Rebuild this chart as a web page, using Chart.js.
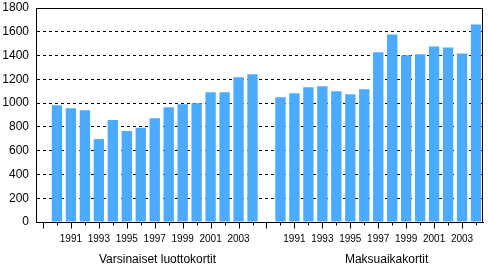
<!DOCTYPE html>
<html>
<head>
<meta charset="utf-8">
<script src="https://cdn.jsdelivr.net/npm/chart.js@4"></script>
<style>
html,body{margin:0;padding:0;background:#fff;}
#wrap{width:488px;height:265px;position:relative;}
</style>
</head>
<body>
<div id="wrap"><canvas id="c" width="488" height="265"></canvas></div>
<script>
const years = ['1990','1991','1992','1993','1994','1995','1996','1997','1998','1999','2000','2001','2002','2003','2004'];
const luottokortit = [982, 957, 940, 697, 857, 765, 792, 873, 966, 990, 999, 1091, 1091, 1217, 1242];
const maksuaikakortit = [1049, 1083, 1133, 1141, 1099, 1074, 1116, 1427, 1578, 1402, 1410, 1477, 1468, 1418, 1661];
const groupNames = ['Varsinaiset luottokortit', 'Maksuaikakortit'];
const yTicks = [0, 200, 400, 600, 800, 1000, 1200, 1400, 1600, 1800];

const labels = [''].concat(years, [''], years);
const values = [null].concat(luottokortit, [null], maksuaikakortit);

const FONT = '"Liberation Sans", Arial, sans-serif';

const extras = {
  id: 'extras',
  afterDraw(chart) {
    const ctx = chart.ctx, ca = chart.chartArea, x = chart.scales.x;
    ctx.save();
    ctx.strokeStyle = '#000';
    ctx.lineWidth = 1;
    ctx.setLineDash([]);
    ctx.beginPath();
    ctx.moveTo(Math.round(ca.left) + 0.5, Math.round(ca.bottom) + 0.5);
    ctx.lineTo(Math.round(ca.left) + 0.5, Math.round(ca.top) + 0.5);
    ctx.lineTo(Math.round(ca.right) - 0.5, Math.round(ca.top) + 0.5);
    ctx.lineTo(Math.round(ca.right) - 0.5, Math.round(ca.bottom) + 0.5);
    ctx.stroke();
    const yb = Math.round(ca.bottom) + 0.5;
    ctx.beginPath();
    for (let i = 0; i < labels.length; i++) {
      const px = Math.round(x.getPixelForValue(i)) + 0.5;
      ctx.moveTo(px, yb);
      ctx.lineTo(px, yb + (i % 2 === 0 ? 6 : 3));
    }
    ctx.stroke();
    ctx.fillStyle = '#000';
    ctx.font = '12px ' + FONT;
    ctx.textAlign = 'center';
    ctx.textBaseline = 'alphabetic';
    ctx.fillText(groupNames[0], x.getPixelForValue(8.2), 263);
    ctx.fillText(groupNames[1], x.getPixelForValue(24.6), 263);
    ctx.restore();
  }
};

new Chart(document.getElementById('c'), {
  type: 'bar',
  data: {
    labels: labels,
    datasets: [{
      data: values,
      backgroundColor: 'rgb(77,171,255)',
      borderWidth: 0,
      barPercentage: 0.74,
      categoryPercentage: 1.0
    }]
  },
  options: {
    responsive: false,
    animation: false,
    devicePixelRatio: 1,
    layout: { padding: { left: 0, right: 5, top: 8, bottom: 0 } },
    plugins: { legend: { display: false }, tooltip: { enabled: false } },
    scales: {
      x: {
        type: 'category',
        offset: true,
        afterFit(s) { s.height = 43; s.paddingLeft = 0; s.paddingRight = 0; },
        grid: { display: true, drawOnChartArea: false, drawTicks: true, tickLength: 6, tickColor: 'rgba(0,0,0,0)', offset: false },
        border: { display: true, color: '#000', width: 1 },
        ticks: {
          autoSkip: false,
          maxRotation: 0,
          minRotation: 0,
          padding: 5,
          color: '#000',
          font: { family: FONT, size: 10 },
          callback(val, i) {
            const l = labels[i];
            return (i % 2 === 0 && l) ? l : '';
          }
        }
      },
      y: {
        min: 0,
        max: 1800,
        afterFit(s) { s.width = 36; s.paddingTop = 0; s.paddingBottom = 0; },
        afterBuildTicks(s) { s.ticks = yTicks.map(v => ({ value: v })); },
        grid: { color: '#000', lineWidth: 1, drawTicks: false },
        border: { display: true, color: '#000', width: 1, dash: [3, 3] },
        ticks: {
          padding: 7,
          color: '#000',
          font: { family: FONT, size: 12 },
          callback(v) { return String(v); }
        }
      }
    }
  },
  plugins: [extras]
});
</script>
</body>
</html>
